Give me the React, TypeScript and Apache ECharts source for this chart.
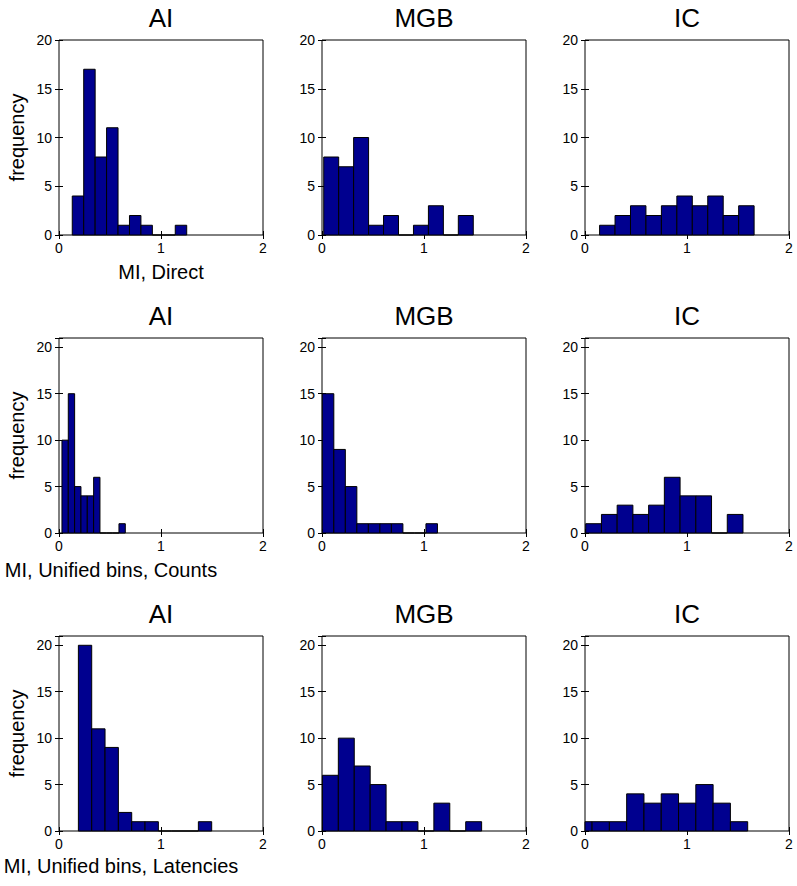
import React, { useEffect, useRef } from "react";
import * as echarts from "echarts";

// Panel titles (columns) and x-labels (rows)
const colTitles = ["AI", "MGB", "IC"];
const rowXLabels = ["MI, Direct", "MI, Unified bins, Counts", "MI, Unified bins, Latencies"];
const yLabel = "frequency";
const xTicks = [0, 1, 2];
const yMaxByRow = [20, 21, 21];

// Histogram bin ranges [first edge, last edge] and counts (10 bins each)
const r1AIRange = [0.13, 1.252];
const r1AICounts = [4, 17, 8, 11, 1, 2, 1, 0, 0, 1];
const r1MGBRange = [0.017, 1.483];
const r1MGBCounts = [8, 7, 10, 1, 2, 0, 1, 3, 0, 2];
const r1ICRange = [0.143, 1.658];
const r1ICCounts = [1, 2, 3, 2, 3, 4, 3, 4, 2, 3];

const r2AIRange = [0.029, 0.65];
const r2AICounts = [10, 15, 5, 4, 4, 6, 0, 0, 0, 1];
const r2MGBRange = [0.003, 1.132];
const r2MGBCounts = [15, 9, 5, 1, 1, 1, 1, 0, 0, 1];
const r2ICRange = [0.007, 1.549];
const r2ICCounts = [1, 2, 3, 2, 3, 6, 4, 4, 0, 2];

const r3AIRange = [0.19, 1.497];
const r3AICounts = [20, 11, 9, 2, 1, 1, 0, 0, 0, 1];
const r3MGBRange = [0.004, 1.565];
const r3MGBCounts = [6, 10, 7, 5, 1, 1, 0, 3, 0, 1];
const r3ICRange = [-0.1, 1.595];
const r3ICCounts = [1, 1, 1, 4, 3, 4, 3, 5, 3, 1];

const panels = [
  [r1AIRange, r1AICounts], [r1MGBRange, r1MGBCounts], [r1ICRange, r1ICCounts],
  [r2AIRange, r2AICounts], [r2MGBRange, r2MGBCounts], [r2ICRange, r2ICCounts],
  [r3AIRange, r3AICounts], [r3MGBRange, r3MGBCounts], [r3ICRange, r3ICCounts],
] as [number[], number[]][];

const FONT = "'Liberation Sans', Arial, Helvetica, sans-serif";
const colLeft = [59, 322, 585];
const rowTop = [40, 338, 636];
const gridW = 204;
const gridH = 195;

export default function App() {
  const ref = useRef<HTMLDivElement>(null);
  useEffect(() => {
    if (!ref.current) return;
    const chart = echarts.init(ref.current, null, { renderer: "svg" });
    const grid: any[] = [];
    const xAxis: any[] = [];
    const yAxis: any[] = [];
    const series: any[] = [];
    const graphic: any[] = [];
    panels.forEach(([range, counts], i) => {
      const r = Math.floor(i / 3);
      const c = i % 3;
      grid.push({
        left: colLeft[c], top: rowTop[r], width: gridW, height: gridH,
        show: true, borderColor: "#000", borderWidth: 1, backgroundColor: "#fff",
      });
      const xBase = {
        type: "value", gridIndex: i, min: 0, max: 2, interval: 1,
        splitLine: { show: false }, axisLine: { show: false },
        axisTick: { show: true, inside: true, length: 4, lineStyle: { color: "#000" } },
      };
      xAxis.push({
        ...xBase, position: "bottom",
        axisLabel: { show: true, color: "#000", fontSize: 14, fontFamily: FONT, margin: 6 },
      });
      xAxis.push({ ...xBase, position: "top", axisLabel: { show: false } });
      const yMax = yMaxByRow[r];
      const yBase = {
        type: "value", gridIndex: i, min: 0, max: yMax, interval: 5,
        splitLine: { show: false }, axisLine: { show: false },
        axisTick: { show: true, inside: true, length: 4, lineStyle: { color: "#000" } },
      };
      yAxis.push({
        ...yBase, position: "left",
        axisLabel: {
          show: true, color: "#000", fontSize: 14, fontFamily: FONT, margin: 7,
          formatter: (v: number) => (v % 5 === 0 ? String(v) : ""),
        },
      });
      yAxis.push({ ...yBase, position: "right", axisLabel: { show: false } });
      const n = counts.length;
      const w = (range[1] - range[0]) / n;
      const data = counts.map((cnt, k) => [range[0] + k * w, range[0] + (k + 1) * w, cnt]);
      series.push({
        type: "custom",
        xAxisIndex: 2 * i,
        yAxisIndex: 2 * i,
        encode: { x: [0, 1], y: 2 },
        data,
        renderItem: (params: any, api: any) => {
          const x0 = api.value(0), x1 = api.value(1), v = api.value(2);
          const p0 = api.coord([x0, v]);
          const p1 = api.coord([x1, 0]);
          const cs = params.coordSys;
          const left = Math.max(p0[0], cs.x);
          const right = Math.min(p1[0], cs.x + cs.width);
          if (right <= left) return null;
          return {
            type: "rect",
            shape: { x: left, y: p0[1], width: right - left, height: p1[1] - p0[1] },
            style: { fill: "#00008F", stroke: "#000", lineWidth: 1 },
          };
        },
      });
      // title
      graphic.push({
        type: "text",
        x: colLeft[c] + gridW / 2, y: rowTop[r] - 22,
        style: { text: colTitles[c], font: `26px ${FONT}`, fill: "#000", textAlign: "center", textVerticalAlign: "middle" },
      });
    });
    const xLabelPos = [
      { x: 161, y: 272, align: "center" },
      { x: 111, y: 570, align: "center" },
      { x: 121, y: 866, align: "center" },
    ];
    for (let r = 0; r < 3; r++) {
      graphic.push({
        type: "text",
        x: xLabelPos[r].x, y: xLabelPos[r].y,
        style: { text: rowXLabels[r], font: `20px ${FONT}`, fill: "#000", textAlign: xLabelPos[r].align, textVerticalAlign: "middle" },
      });
      graphic.push({
        type: "text",
        x: 17, y: rowTop[r] + gridH / 2,
        rotation: Math.PI / 2,
        style: { text: yLabel, font: `20px ${FONT}`, fill: "#000", textAlign: "center", textVerticalAlign: "middle" },
      });
    }
    chart.setOption({
      animation: false,
      backgroundColor: "#fff",
      grid, xAxis, yAxis, series, graphic,
    });
    return () => chart.dispose();
  }, []);
  return (
    <div
      ref={ref}
      style={{ position: "fixed", left: 0, top: 0, width: 797, height: 886, background: "#fff" }}
    />
  );
}
